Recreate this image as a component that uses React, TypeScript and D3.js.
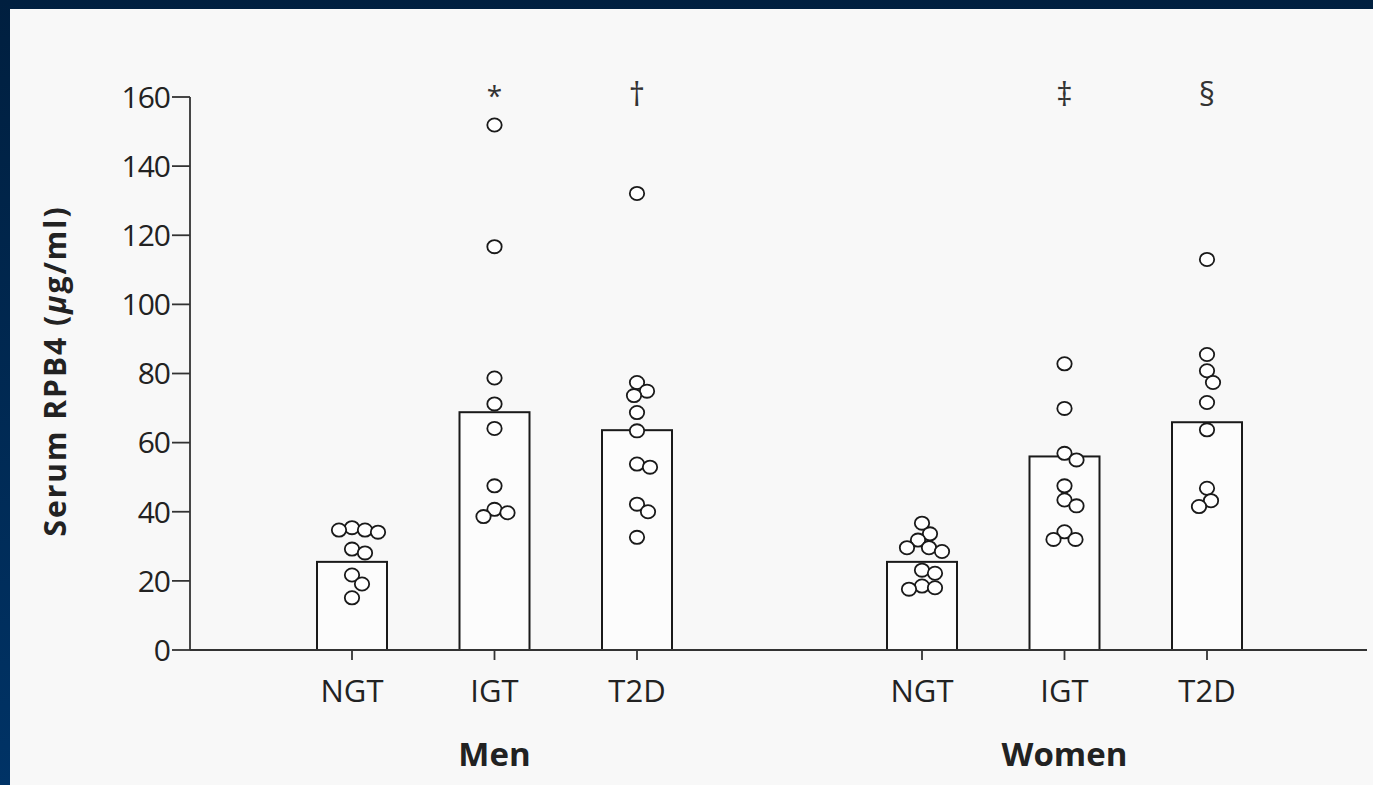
import React from "react";
import * as d3 from "d3";

const groups = ["Men", "Women"];
const categories = ["NGT", "IGT", "T2D"];
const barValues = [25.5, 68.8, 63.6, 25.5, 56.0, 65.9];
const markers = ["", "*", "†", "", "‡", "§"];
const menNGT = [35.4, 34.7, 34.7, 34.1, 29.2, 28.1, 21.7, 19.1, 15.1];
const menIGT = [151.9, 116.7, 78.7, 71.2, 64.1, 47.5, 40.7, 39.7, 38.6];
const menT2D = [132.1, 77.4, 74.9, 73.6, 68.7, 63.4, 53.8, 52.9, 42.2, 40.0, 32.6];
const womenNGT = [36.7, 33.6, 31.8, 29.6, 29.6, 28.5, 23.1, 22.2, 18.5, 18.0, 17.6];
const womenIGT = [82.8, 69.9, 56.9, 55.0, 47.5, 43.4, 41.7, 34.2, 32.0, 32.0];
const womenT2D = [113.0, 85.5, 80.8, 77.4, 71.6, 63.7, 46.8, 43.2, 41.5];
const yTicks = [0, 20, 40, 60, 80, 100, 120, 140, 160];

const pointSets = [menNGT, menIGT, menT2D, womenNGT, womenIGT, womenT2D];
const slotIndex = [0, 1, 2, 4, 5, 6];

const W = 1373;
const H = 785;

function swarm(values: number[], y: (v: number) => number, d: number) {
  const placed: { x: number; y: number }[] = [];
  const sorted = [...values].sort((a, b) => b - a);
  for (const v of sorted) {
    const py = y(v);
    let best = 0;
    for (let k = 0; k < 200; k++) {
      const off = k === 0 ? 0 : (k % 2 === 1 ? 1 : -1) * Math.ceil(k / 2);
      const ok = placed.every((p) => Math.hypot(p.x - off, p.y - py) >= d);
      if (ok) {
        best = off;
        break;
      }
    }
    placed.push({ x: best, y: py });
  }
  return placed;
}

export default function App() {
  const y = d3.scaleLinear().domain([0, 160]).range([650, 97]);
  const x = d3.scaleLinear().domain([0, 6]).range([352, 1207]);
  const axisLeft = 190;
  const axisRight = 1367;
  const barW = 70;
  const font = "'Open Sans', sans-serif";
  const textColor = "#222";

  return (
    <svg
      width={W}
      height={H}
      style={{ position: "absolute", left: 0, top: 0, display: "block" }}
    >
      <defs>
        <linearGradient id="bg" x1="0" y1="0" x2="0" y2="1">
          <stop offset="0" stopColor="#001f3f" />
          <stop offset="1" stopColor="#003366" />
        </linearGradient>
      </defs>
      <rect x={0} y={0} width={W} height={H} fill="url(#bg)" />
      <rect x={10} y={9} width={W - 10} height={H - 9} fill="#f8f8f8" />

      {/* bars */}
      {barValues.map((v, i) => (
        <rect
          key={"b" + i}
          x={x(slotIndex[i]) - barW / 2}
          y={y(v)}
          width={barW}
          height={y(0) - y(v)}
          fill="#fcfcfc"
          stroke="#1a1a1a"
          strokeWidth={2}
        />
      ))}

      {/* y axis */}
      <line x1={axisLeft} x2={axisLeft} y1={y(160)} y2={y(0)} stroke="#333" strokeWidth={1.8} />
      {yTicks.map((t) => (
        <g key={"t" + t}>
          <line x1={axisLeft - 18} x2={axisLeft} y1={y(t)} y2={y(t)} stroke="#333" strokeWidth={1.8} />
          <text
            x={axisLeft - 20}
            y={y(t)}
            dy="0.36em"
            textAnchor="end"
            fontFamily={font}
            fontSize={30}
            letterSpacing={-1}
            fill={textColor}
          >
            {t}
          </text>
        </g>
      ))}

      {/* x axis */}
      <line x1={axisLeft} x2={axisRight} y1={y(0)} y2={y(0)} stroke="#333" strokeWidth={2.2} />
      {slotIndex.map((s, i) => (
        <g key={"c" + i}>
          <line x1={x(s)} x2={x(s)} y1={y(0)} y2={y(0) + 10} stroke="#333" strokeWidth={1.8} />
          <text
            x={x(s)}
            y={702}
            textAnchor="middle"
            fontFamily={font}
            fontSize={31}
            fill={textColor}
          >
            {categories[i % 3]}
          </text>
        </g>
      ))}
      {groups.map((g, gi) => (
        <text
          key={g}
          x={x(gi * 4 + 1)}
          y={766}
          textAnchor="middle"
          fontFamily={font}
          fontWeight="bold"
          fontSize={33}
          fill={textColor}
        >
          {g}
        </text>
      ))}

      {/* points */}
      {pointSets.map((vals, i) => {
        const pts = swarm(vals, y, 13);
        return (
          <g key={"p" + i}>
            {pts.map((p, j) => (
              <ellipse
                key={j}
                cx={x(slotIndex[i]) + p.x}
                cy={p.y}
                rx={7.2}
                ry={6.6}
                fill="#ffffff"
                stroke="#1a1a1a"
                strokeWidth={1.8}
              />
            ))}
          </g>
        );
      })}

      {/* significance markers */}
      {markers.map((m, i) =>
        m ? (
          <text
            key={"m" + i}
            x={x(slotIndex[i])}
            y={106}
            textAnchor="middle"
            fontFamily={font}
            fontSize={i === 1 ? 28 : 32}
            fill="#333"
          >
            {m}
          </text>
        ) : null
      )}

      {/* y title */}
      <text
        transform={`translate(66, ${371}) rotate(-90)`}
        textAnchor="middle"
        fontFamily={font}
        fontWeight="bold"
        fontSize={30}
        letterSpacing={2}
        fill={textColor}
      >
        Serum RPB4 (<tspan fontStyle="italic">μ</tspan>g/ml)
      </text>
    </svg>
  );
}
